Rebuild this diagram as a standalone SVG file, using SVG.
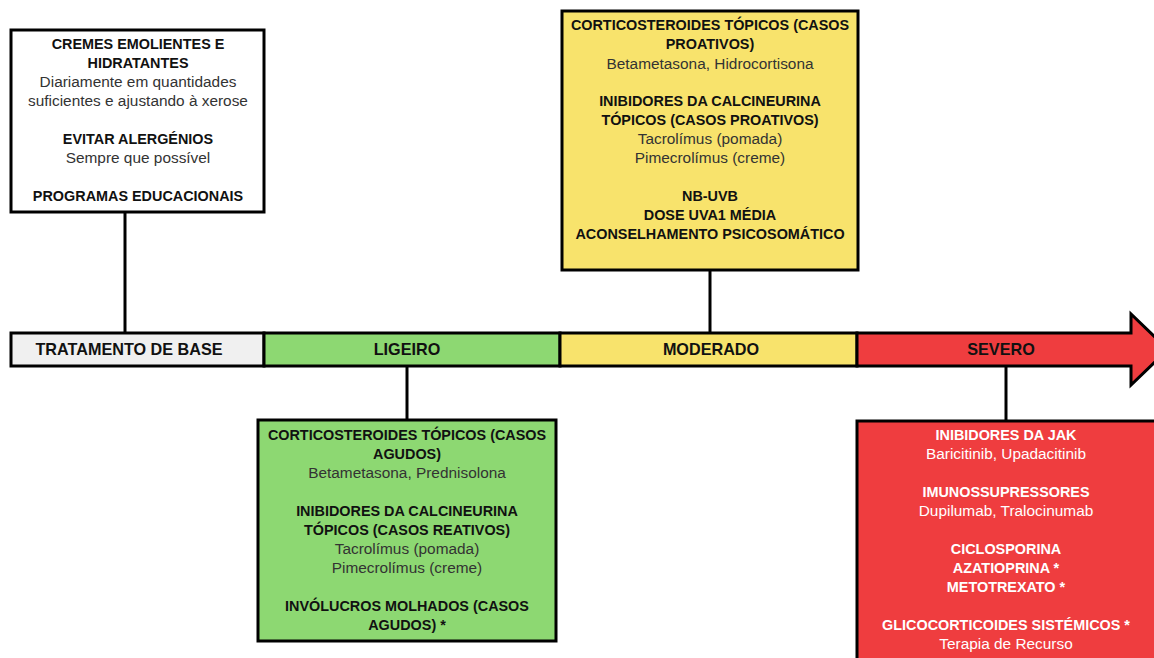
<svg xmlns="http://www.w3.org/2000/svg" width="1154" height="658" viewBox="0 0 1154 658">
<style>
.box{stroke:#000;stroke-width:3}
.b{font-family:"Liberation Sans",Arial,sans-serif;font-weight:bold;font-size:14.4px;fill:#111;text-anchor:middle}
.r{font-family:"Liberation Sans",Arial,sans-serif;font-size:15.4px;fill:#333;text-anchor:middle}
.w{fill:#fff}
.lbl{font-family:"Liberation Sans",Arial,sans-serif;font-weight:bold;font-size:16.2px;fill:#111;text-anchor:middle}
.con{stroke:#000;stroke-width:3;fill:none}
</style>
<rect width="1154" height="658" fill="#fff"/>
<g id="connectors">
<line class="con" x1="125" y1="212" x2="125" y2="333"/>
<line class="con" x1="710" y1="270" x2="710" y2="333"/>
<line class="con" x1="407" y1="366" x2="407" y2="420"/>
<line class="con" x1="1006" y1="366" x2="1006" y2="421"/>
</g>
<g id="timeline">
<rect x="11" y="333" width="253" height="33" fill="#f0f0f0" class="box"/>
<rect x="264" y="333" width="296" height="33" fill="#8dd872" class="box"/>
<rect x="560" y="333" width="297" height="33" fill="#f8e36c" class="box"/>
<polygon points="857,333 1131,333 1131,314 1168,349.5 1131,385 1131,366 857,366" fill="#ef3d3f" class="box"/>
<text class="lbl" x="129" y="355">TRATAMENTO DE BASE</text>
<text class="lbl" x="407" y="355">LIGEIRO</text>
<text class="lbl" x="711" y="355">MODERADO</text>
<text class="lbl w" x="1001" y="355">SEVERO</text>
</g>
<g id="base">
<rect x="11" y="30" width="253" height="182" fill="#fff" class="box"/>
<text class="b" x="138" y="49">CREMES EMOLIENTES E</text>
<text class="b" x="138" y="68">HIDRATANTES</text>
<text class="r" x="138" y="87">Diariamente em quantidades</text>
<text class="r" x="138" y="106">suficientes e ajustando à xerose</text>
<text class="b" x="138" y="144">EVITAR ALERGÉNIOS</text>
<text class="r" x="138" y="163">Sempre que possível</text>
<text class="b" x="138" y="201">PROGRAMAS EDUCACIONAIS</text>
</g>
<g id="moderado">
<rect x="562" y="11" width="296" height="259" fill="#f8e36c" class="box"/>
<text class="b" x="710" y="30">CORTICOSTEROIDES TÓPICOS (CASOS</text>
<text class="b" x="710" y="49">PROATIVOS)</text>
<text class="r" x="710" y="69">Betametasona, Hidrocortisona</text>
<text class="b" x="710" y="106">INIBIDORES DA CALCINEURINA</text>
<text class="b" x="710" y="125">TÓPICOS (CASOS PROATIVOS)</text>
<text class="r" x="710" y="144">Tacrolímus (pomada)</text>
<text class="r" x="710" y="163">Pimecrolímus (creme)</text>
<text class="b" x="710" y="201">NB-UVB</text>
<text class="b" x="710" y="220">DOSE UVA1 MÉDIA</text>
<text class="b" x="710" y="239">ACONSELHAMENTO PSICOSOMÁTICO</text>
</g>
<g id="ligeiro">
<rect x="258" y="420" width="298" height="221" fill="#8dd872" class="box"/>
<text class="b" x="407" y="440">CORTICOSTEROIDES TÓPICOS (CASOS</text>
<text class="b" x="407" y="459">AGUDOS)</text>
<text class="r" x="407" y="478">Betametasona, Prednisolona</text>
<text class="b" x="407" y="516">INIBIDORES DA CALCINEURINA</text>
<text class="b" x="407" y="535">TÓPICOS (CASOS REATIVOS)</text>
<text class="r" x="407" y="554">Tacrolímus (pomada)</text>
<text class="r" x="407" y="573">Pimecrolímus (creme)</text>
<text class="b" x="407" y="611">INVÓLUCROS MOLHADOS (CASOS</text>
<text class="b" x="407" y="630">AGUDOS) *</text>
</g>
<g id="severo">
<rect x="857" y="421" width="300" height="250" fill="#ef3d3f" class="box"/>
<text class="b w" x="1006" y="440">INIBIDORES DA JAK</text>
<text class="r w" x="1006" y="459">Baricitinib, Upadacitinib</text>
<text class="b w" x="1006" y="497">IMUNOSSUPRESSORES</text>
<text class="r w" x="1006" y="516">Dupilumab, Tralocinumab</text>
<text class="b w" x="1006" y="554">CICLOSPORINA</text>
<text class="b w" x="1006" y="573">AZATIOPRINA *</text>
<text class="b w" x="1006" y="592">METOTREXATO *</text>
<text class="b w" x="1006" y="630">GLICOCORTICOIDES SISTÉMICOS *</text>
<text class="r w" x="1006" y="649">Terapia de Recurso</text>
</g>
</svg>
